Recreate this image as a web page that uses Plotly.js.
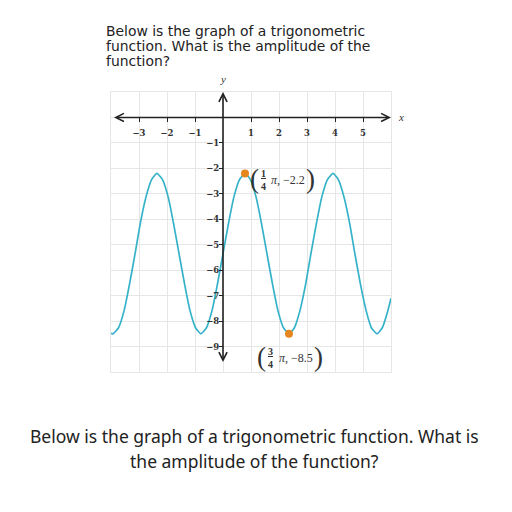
<!DOCTYPE html>
<html>
<head>
<meta charset="utf-8">
<script src="https://cdn.plot.ly/plotly-3.0.1.min.js"></script>
<style>html,body{margin:0;padding:0;background:#fff;}#chart{width:512px;height:512px;}</style>
</head>
<body>
<div id="chart"></div>
<script>
// curve samples
const curveX = [-4.0, -3.93, -3.73, -3.53, -3.34, -3.14, -2.95, -2.75, -2.55, -2.36, -2.16, -1.96, -1.77, -1.57, -1.37, -1.18, -0.98, -0.79, -0.59, -0.39, -0.20, 0.0, 0.20, 0.39, 0.59, 0.79, 0.98, 1.18, 1.37, 1.57, 1.77, 1.96, 2.16, 2.36, 2.55, 2.75, 2.95, 3.14, 3.34, 3.53, 3.73, 3.93, 4.12, 4.32, 4.52, 4.71, 4.91, 5.11, 5.30, 5.50, 5.69, 5.89, 6.0];
const curveY = [-8.48, -8.5, -8.26, -7.58, -6.56, -5.35, -4.14, -3.12, -2.44, -2.2, -2.44, -3.12, -4.14, -5.35, -6.56, -7.58, -8.26, -8.5, -8.26, -7.58, -6.56, -5.35, -4.14, -3.12, -2.44, -2.2, -2.44, -3.12, -4.14, -5.35, -6.56, -7.58, -8.26, -8.5, -8.26, -7.58, -6.56, -5.35, -4.14, -3.12, -2.44, -2.2, -2.44, -3.12, -4.14, -5.35, -6.56, -7.58, -8.26, -8.5, -8.26, -7.58, -7.1];
// highlighted points
const keyX = [Math.PI / 4, 3 * Math.PI / 4];
const keyY = [-2.2, -8.5];
const keyNum = ['1', '3'];
const keyDen = ['4', '4'];
const keyVal = ['−2.2', '−8.5'];
// tick labels
const xTickVals = [-3, -2, -1, 1, 2, 3, 4, 5];
const xTickText = ['−3', '−2', '−1', '1', '2', '3', '4', '5'];
const yTickVals = [-1, -2, -3, -4, -5, -6, -7, -8, -9];
const yTickText = ['−1', '−2', '−3', '−4', '−5', '−6', '−7', '−8', '−9'];
const xRange = [-4, 6];
const yRange = [-10, 1];

const questionLines = ['Below is the graph of a trigonometric', 'function. What is the amplitude of the', 'function?'];
const captionLines = ['Below is the graph of a trigonometric function. What is', 'the amplitude of the function?'];

const tealColor = '#35b2c9';
const orangeColor = '#e5861f';
const axisColor = '#222';
const gridColor = '#e6e6e6';
const tickFont = {family: 'DejaVu Serif', size: 8.5, color: '#333', weight: 'bold'};
const mathFont = {family: 'Liberation Serif', size: 12, color: '#333'};
const parenFont = {family: 'Liberation Serif', size: 27, color: '#333'};

const traces = [
  {x: curveX, y: curveY, type: 'scatter', mode: 'lines', line: {color: tealColor, width: 1.7, shape: 'spline', smoothing: 0.5}, hoverinfo: 'skip', xaxis: 'x', yaxis: 'y'},
  {x: keyX, y: keyY, type: 'scatter', mode: 'markers', marker: {color: orangeColor, size: 8}, hoverinfo: 'skip', xaxis: 'x2', yaxis: 'y2'}
];

const xZeroPos = (0 - yRange[0]) / (yRange[1] - yRange[0]);
const yZeroPos = (0 - xRange[0]) / (xRange[1] - xRange[0]);

const annotations = [];
// axis lines with arrows
annotations.push({x: xRange[1], y: 0, ax: xRange[0], ay: 0, xref: 'x', yref: 'y', axref: 'x', ayref: 'y', text: ' ', showarrow: true, arrowhead: 5, arrowside: 'end+start', arrowwidth: 1.6, arrowsize: 1, arrowcolor: axisColor, standoff: 0, startstandoff: 0});
annotations.push({x: 0, y: yRange[1], ax: 0, ay: yRange[0], xref: 'x', yref: 'y', axref: 'x', ayref: 'y', text: ' ', showarrow: true, arrowhead: 5, arrowside: 'end+start', arrowwidth: 1.6, arrowsize: 1, arrowcolor: axisColor, standoff: 0, startstandoff: 0});
// axis names
annotations.push({x: 0, y: yRange[1], xref: 'x', yref: 'y', text: '<i>y</i>', showarrow: false, yshift: 13, font: {family: 'Liberation Serif', size: 11, color: '#333'}});
annotations.push({x: xRange[1], y: 0, xref: 'x', yref: 'y', text: '<i>x</i>', showarrow: false, xanchor: 'left', xshift: 5, font: {family: 'Liberation Serif', size: 11, color: '#333'}});

// point labels: offsets [paren-open, fraction, value, paren-close]
const labelOffsets = [
  {dx: [10, 19, 24, 66], dy: -7},
  {dx: [-27, -18, -12, 30], dy: -24}
];
for (let i = 0; i < keyX.length; i++) {
  const o = labelOffsets[i];
  annotations.push({x: keyX[i], y: keyY[i], xref: 'x', yref: 'y', text: '(', showarrow: false, xshift: o.dx[0], yshift: o.dy + 1, font: parenFont});
  annotations.push({x: keyX[i], y: keyY[i], xref: 'x', yref: 'y', text: '<b><u>' + keyNum[i] + '</u></b><br><b>' + keyDen[i] + '</b>', showarrow: false, xshift: o.dx[1], yshift: o.dy, font: {family: 'Liberation Serif', size: 10, color: '#333'}});
  annotations.push({x: keyX[i], y: keyY[i], xref: 'x', yref: 'y', text: '<i>π</i>, ' + keyVal[i], showarrow: false, xanchor: 'left', xshift: o.dx[2], yshift: o.dy, font: mathFont});
  annotations.push({x: keyX[i], y: keyY[i], xref: 'x', yref: 'y', text: ')', showarrow: false, xshift: o.dx[3], yshift: o.dy + 1, font: parenFont});
}
// question lines (top-left)
const qFont = {family: 'DejaVu Sans', size: 13.9, color: '#222'};
for (let i = 0; i < questionLines.length; i++) {
  annotations.push({x: (104 - 111) / 280, y: (372 - 21 - i * 15) / 280, xref: 'paper', yref: 'paper', text: questionLines[i], showarrow: false, xanchor: 'left', yanchor: 'top', font: qFont});
}
// caption lines
const cFont = {family: 'Noto Sans', size: 17.5, color: '#222'};
annotations.push({x: 0.514, y: (372 - 422) / 280, xref: 'paper', yref: 'paper', text: captionLines[0], showarrow: false, xanchor: 'center', yanchor: 'top', font: cFont});
annotations.push({x: 0.514, y: (372 - 447) / 280, xref: 'paper', yref: 'paper', text: captionLines[1], showarrow: false, xanchor: 'center', yanchor: 'top', font: cFont});

const gridAxis = {dtick: 1, tick0: 0, showgrid: true, gridcolor: gridColor, gridwidth: 1, zeroline: false, showticklabels: false, ticks: '', showline: true, linecolor: gridColor, linewidth: 1, mirror: true, fixedrange: true};

const layout = {
  width: 512, height: 512,
  margin: {l: 111, r: 121, t: 92, b: 140, pad: 0},
  paper_bgcolor: '#fff', plot_bgcolor: '#fff',
  showlegend: false,
  xaxis: Object.assign({range: xRange}, gridAxis),
  yaxis: Object.assign({range: yRange}, gridAxis),
  xaxis2: {overlaying: 'x', anchor: 'free', position: xZeroPos, range: xRange, tickmode: 'array', tickvals: xTickVals, ticktext: xTickText, ticks: 'outside', ticklen: 4, tickwidth: 1, tickcolor: axisColor, showgrid: false, zeroline: false, showline: false, tickfont: tickFont, ticklabelstandoff: 3, fixedrange: true},
  xaxis3: {overlaying: 'x', anchor: 'free', position: xZeroPos, range: xRange, tickmode: 'array', tickvals: xTickVals, ticks: 'inside', ticklen: 4, tickwidth: 1, tickcolor: axisColor, showgrid: false, zeroline: false, showline: false, showticklabels: false, fixedrange: true},
  yaxis2: {overlaying: 'y', anchor: 'free', position: yZeroPos, range: yRange, tickmode: 'array', tickvals: yTickVals, ticktext: yTickText, ticks: 'outside', ticklen: 4, tickwidth: 1, tickcolor: axisColor, showgrid: false, zeroline: false, showline: false, tickfont: tickFont, ticklabelstandoff: -2, fixedrange: true},
  yaxis3: {overlaying: 'y', anchor: 'free', position: yZeroPos, range: yRange, tickmode: 'array', tickvals: yTickVals, ticks: 'inside', ticklen: 4, tickwidth: 1, tickcolor: axisColor, showgrid: false, zeroline: false, showline: false, showticklabels: false, fixedrange: true},
  annotations: annotations
};

Plotly.newPlot('chart', traces, layout, {staticPlot: true, displayModeBar: false});
</script>
</body>
</html>
